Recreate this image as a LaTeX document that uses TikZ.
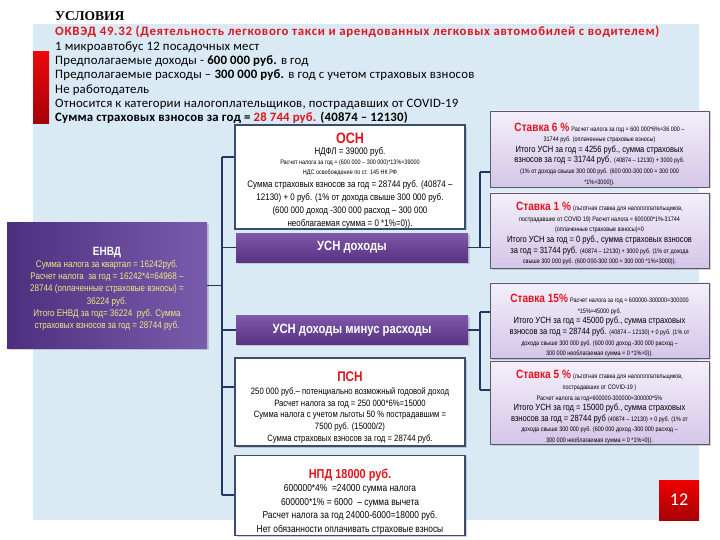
\documentclass[tikz,border=0pt]{standalone}
\usepackage{fontspec}
\setmainfont{Carlito}
\newfontfamily\nar[FakeStretch=0.84]{Liberation Sans}
\newfontfamily\ser{Liberation Serif}
\usetikzlibrary{shadows}
\definecolor{myred}{RGB}{225,20,30}
\definecolor{panel}{RGB}{217,234,245}
\definecolor{conn}{RGB}{31,56,100}
\definecolor{boxline}{RGB}{58,78,108}
\definecolor{rline}{RGB}{95,85,110}
\definecolor{envdyel}{RGB}{242,232,130}
\tikzset{
  whitebox/.style={draw=boxline, line width=1.8pt, fill=white,
    drop shadow={opacity=0.35, shadow xshift=1.5pt, shadow yshift=-1.5pt},
    minimum width=230pt, align=center, inner sep=1pt,
    font=\nar\fontsize{9.5}{13}\selectfont},
  ratebox/.style={draw=rline, line width=0.8pt, top color={rgb,255:red,244;green,239;blue,250},
    bottom color={rgb,255:red,212;green,198;blue,232},
    drop shadow={opacity=0.35, shadow xshift=1.5pt, shadow yshift=-1.5pt},
    minimum width=219pt, align=center, inner sep=1pt,
    font=\nar\fontsize{9}{10.6}\selectfont},
  purplebar/.style={top color={rgb,255:red,128;green,88;blue,168},
    bottom color={rgb,255:red,88;green,52;blue,128}, middle color={rgb,255:red,108;green,68;blue,150},
    drop shadow={opacity=0.3, shadow xshift=1.5pt, shadow yshift=-1.5pt},
    minimum width=232pt, minimum height=29pt, text=white,
    font=\nar\fontsize{13.4}{15}\selectfont\bfseries},
  cline/.style={draw=conn, line width=1.4pt},
}
\newcommand{\smt}[1]{{\fontsize{6.5}{8}\selectfont #1}}
\newcommand{\rt}[1]{{\fontsize{12}{12}\selectfont\bfseries\color{myred}#1}}
\newcommand{\tall}[1]{\rule{0pt}{#1pt}}
\begin{document}
\begin{tikzpicture}[x=1pt,y=-1pt]
\useasboundingbox (0,0) rectangle (720,540);
\fill[white] (0,0) rectangle (720,540);
% panel
\fill[panel] (33,24) rectangle (699,520);
\shade[top color={rgb,255:red,235;green,10;blue,10}, bottom color={rgb,255:red,165;green,0;blue,10}] (33,52) rectangle (49,124);
% title and conditions
\node[anchor=west, font=\ser\fontsize{13.5}{15}\selectfont\bfseries, inner sep=0] (title) at (55,16) {УСЛОВИЯ};
\node[anchor=north west, align=left, inner sep=0, font=\fontsize{12.8}{14.33}\selectfont\addfontfeatures{LetterSpace=1.5}] (cond) at (55,26) {%
{\addfontfeatures{LetterSpace=5.5}\textbf{\color{myred}ОКВЭД 49.32 (Деятельность легкового такси и арендованных легковых автомобилей с водителем)}}\\
1 микроавтобус 12 посадочных мест\\
Предполагаемые доходы - \textbf{600 000 руб.} в год\\
Предполагаемые расходы – \textbf{300 000 руб.} в год с учетом страховых взносов\\
Не работодатель\\
Относится к категории налогоплательщиков, пострадавших от COVID-19\\
\textbf{Сумма страховых взносов за год = {\color{myred}28 744 руб.} (40874 – 12130)}};
% ENVD
\node[left color={rgb,255:red,76;green,47;blue,126}, right color={rgb,255:red,122;green,92;blue,172},
  drop shadow={opacity=0.35, shadow xshift=1.5pt, shadow yshift=-1.5pt},
  minimum width=200pt, minimum height=125pt, align=center, inner sep=1pt,
  text=envdyel, font=\nar\fontsize{9.6}{12.2}\selectfont] (envd) at (107,285.5) {%
\tall{14.7}{\fontsize{12}{12}\selectfont\bfseries\color{white}ЕНВД}\\
Сумма налога за квартал = 16242руб.\\
Расчет налога \ за год = 16242*4=64968 –\\
28744 (оплаченные страховые взносы) =\\
36224 руб.\\
Итого ЕНВД за год= 36224 \ руб. Сумма\\
страховых взносов за год = 28744 руб.};
% OSN
\node[whitebox, minimum height=98pt] (osn) at (350,177) {%
\tall{17}{\fontsize{15}{15}\selectfont\bfseries\color{myred}ОСН}\\[-2pt]
НДФЛ = 39000 руб.\\[-3pt]
\smt{Расчет налога за год = (600 000 – 300 000)*13\%=39000}\\[-3pt]
\smt{НДС освобождение по ст. 145 НК РФ}\\
Сумма страховых взносов за год = 28744 руб. (40874 –\\
12130) + 0 руб. (1\% от дохода свыше 300 000 руб.\\
(600 000 доход -300 000 расход – 300 000\\
необлагаемая сумма = 0 *1\%=0)).};
% USN bars
\node[purplebar] (usn1) at (352,247.5) {УСН доходы};
\node[purplebar] (usn2) at (352,330) {УСН доходы минус расходы};
% PSN
\node[whitebox, minimum height=88pt, font=\nar\fontsize{9.2}{11.8}\selectfont] (psn) at (350,402) {%
\tall{21}{\fontsize{14}{14}\selectfont\bfseries\color{myred}ПСН}\\[1pt]
250 000 руб.– потенциально возможный годовой доход\\
Расчет налога за год = 250 000*6\%=15000\\
Сумма налога с учетом льготы 50 \% пострадавшим =\\
7500 руб. (15000/2)\\
Сумма страховых взносов за год = 28744 руб.};
% NPD
\node[whitebox, minimum height=75pt, font=\nar\fontsize{10}{13.6}\selectfont] (npd) at (350,495.5) {%
\tall{21.5}{\fontsize{13}{13}\selectfont\bfseries\color{myred}НПД 18000 руб.}\\
600000*4\% \ =24000 сумма налога\\
600000*1\% = 6000 \ – сумма вычета\\
Расчет налога за год 24000-6000=18000 руб.\\
Нет обязанности оплачивать страховые взносы};
% rate boxes
\node[ratebox, minimum height=76pt] (r6) at (599.5,149) {%
\tall{18.7}\rt{Ставка 6 \%} \smt{Расчет налога за год = 600 000*6\%=36 000 –}\\
\smt{31744 руб. (оплаченные страховые взносы)}\\
Итого УСН за год = 4256 руб., сумма страховых\\
взносов за год = 31744 руб. \smt{(40874 – 12130) + 3000 руб.}\\
\smt{(1\% от дохода свыше 300 000 руб. (600 000-300 000 = 300 000}\\
\smt{*1\%=3000)).}};
\node[ratebox, minimum height=75pt] (r1) at (599.5,230.5) {%
\tall{14.7}\rt{Ставка 1 \%} \smt{(льготная ставка для налогоплательщиков,}\\
\smt{пострадавших от COVID 19) Расчет налога = 600000*1\%-31744}\\
\smt{(оплаченные страховые взносы)=0}\\
Итого УСН за год = 0 руб., сумма страховых взносов\\
за год = 31744 руб. \smt{(40874 – 12130) + 3000 руб. (1\% от дохода}\\
\smt{свыше 300 000 руб. (600 000-300 000 = 300 000 *1\%=3000)).}};
\node[ratebox, minimum height=73pt] (r15) at (599.5,320.5) {%
\tall{18.7}\rt{Ставка 15\%} \smt{Расчет налога за год = 600000-300000=300000}\\
\smt{*15\%=45000 руб.}\\
Итого УСН за год = 45000 руб., сумма страховых\\
взносов за год = 28744 руб. \smt{(40874 – 12130) + 0 руб. (1\% от}\\
\smt{дохода свыше 300 000 руб. (600 000 доход -300 000 расход –}\\
\smt{300 000 необлагаемая сумма = 0 *1\%=0)).}};
\node[ratebox, minimum height=80pt] (r5) at (599.5,403) {%
\tall{16.7}\rt{Ставка 5 \%} \smt{(льготная ставка для налогоплательщиков,}\\
\smt{пострадавших от COVID-19 )}\\
\smt{Расчет налога за год=600000-300000=300000*5\%}\\
Итого УСН за год = 15000 руб., сумма страховых\\
взносов за год = 28744 руб \smt{(40874 – 12130) + 0 руб. (1\% от}\\
\smt{дохода свыше 300 000 руб. (600 000 доход -300 000 расход –}\\
\smt{300 000 необлагаемая сумма = 0 *1\%=0)).}};
% page number
\node[top color={rgb,255:red,238;green,0;blue,0}, bottom color={rgb,255:red,168;green,0;blue,8},
  minimum width=40pt, minimum height=40pt, text=white, font=\fontsize{18}{18}\selectfont] (pg) at (679,500) {12};
% connectors
\coordinate (ta) at (222,157);
\coordinate (tb) at (222,495);
\coordinate (tc) at (222,387);
\coordinate (ra) at (480,172);
\coordinate (rb) at (480,312);
\coordinate (rc) at (480,390);
\draw[cline] (ta) -- (tb);
\draw[cline] (ta) -- (ta -| osn.west);
\draw[cline] (envd.east) -- (envd.east -| ta);
\draw[cline] (usn1.west -| ta) -- (usn1.west);
\draw[cline] (usn2.west -| ta) -- (usn2.west);
\draw[cline] (tc) -- (tc -| psn.west);
\draw[cline] (tb) -- (tb -| npd.west);
\draw[cline] (usn1.east) -- (usn1.east -| r1.west);
\draw[cline] (ra) -- (usn1.east -| ra);
\draw[cline] (ra) -- (ra -| r6.west);
\draw[cline] (usn2.east) -- (usn2.east -| rb);
\draw[cline] (rb) -- (rc);
\draw[cline] (rb) -- (rb -| r15.west);
\draw[cline] (rc) -- (rc -| r5.west);
\end{tikzpicture}
\end{document}
